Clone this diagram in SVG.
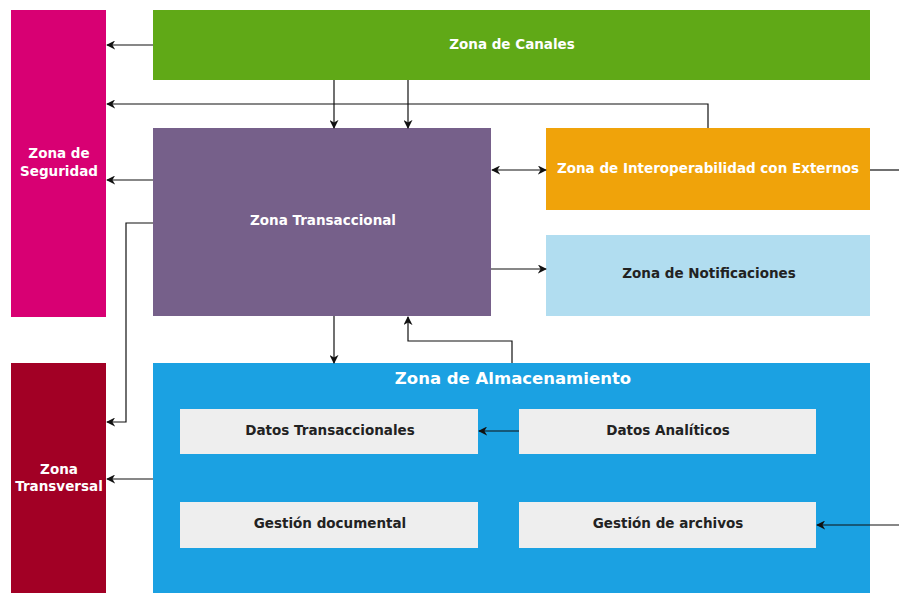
<svg xmlns="http://www.w3.org/2000/svg" width="899" height="593" viewBox="0 0 899 593">
<style>
text{font-family:"DejaVu Sans","Liberation Sans",sans-serif;font-weight:bold;font-size:13.5px;text-anchor:middle;dominant-baseline:central}
.w{fill:#ffffff}.d{fill:#222222}
.c{fill:none;stroke:#111111;stroke-width:1.2}
</style>
<defs>
<marker id="a" viewBox="0 0 10 10" refX="9" refY="5" markerWidth="9" markerHeight="9" markerUnits="userSpaceOnUse" orient="auto-start-reverse">
<path d="M0,0 L10,5 L0,10 L3,5 Z" fill="#111111"/>
</marker>
</defs>
<rect width="899" height="593" fill="#ffffff"/>
<g id="seguridad"><rect x="11" y="10" width="95" height="307" fill="#d80073"/><text class="w" x="59" y="153">Zona de</text><text class="w" x="59" y="171">Seguridad</text></g>
<g id="canales"><rect x="153" y="10" width="717" height="70" fill="#60a917"/><text class="w" x="512" y="44">Zona de Canales</text></g>
<g id="transaccional"><rect x="153" y="128" width="338" height="188" fill="#76608a"/><text class="w" x="323" y="220">Zona Transaccional</text></g>
<g id="interop"><rect x="546" y="128" width="324" height="82" fill="#f0a30a"/><text class="w" x="708" y="168">Zona de Interoperabilidad con Externos</text></g>
<g id="notificaciones"><rect x="546" y="235" width="324" height="81" fill="#b1ddf0"/><text class="d" x="709" y="273">Zona de Notificaciones</text></g>
<g id="transversal"><rect x="11" y="363" width="95" height="240" fill="#a20025"/><text class="w" x="59" y="469">Zona</text><text class="w" x="59" y="486">Transversal</text></g>
<g id="almacenamiento"><rect x="153" y="363" width="717" height="240" fill="#1ba1e2"/><text class="w" x="513" y="378" style="font-size:16.5px">Zona de Almacenamiento</text></g>
<g id="datos-transaccionales"><rect x="180" y="409" width="298" height="45" fill="#eeeeee"/><text class="d" x="330" y="430">Datos Transaccionales</text></g>
<g id="datos-analiticos"><rect x="519" y="409" width="297" height="45" fill="#eeeeee"/><text class="d" x="668" y="430">Datos Analíticos</text></g>
<g id="gestion-documental"><rect x="180" y="502" width="298" height="46" fill="#eeeeee"/><text class="d" x="330" y="523">Gestión documental</text></g>
<g id="gestion-archivos"><rect x="519" y="502" width="297" height="46" fill="#eeeeee"/><text class="d" x="668" y="523">Gestión de archivos</text></g>
<g id="connectors">
<path class="c" d="M153,45 H107" marker-end="url(#a)"/>
<path class="c" d="M708,128 V104 H107" marker-end="url(#a)"/>
<path class="c" d="M334,80 V128" marker-end="url(#a)"/>
<path class="c" d="M408,80 V128" marker-end="url(#a)"/>
<path class="c" d="M153,180 H107" marker-end="url(#a)"/>
<path class="c" d="M153,223 H126 V422 H107" marker-end="url(#a)"/>
<path class="c" d="M492,170 H546" marker-start="url(#a)" marker-end="url(#a)"/>
<path class="c" d="M491,269 H546" marker-end="url(#a)"/>
<path class="c" d="M334,316 V363" marker-end="url(#a)"/>
<path class="c" d="M512,363 V341 H408 V317" marker-end="url(#a)"/>
<path class="c" d="M153,479 H107" marker-end="url(#a)"/>
<path class="c" d="M519,431 H479" marker-end="url(#a)"/>
<path class="c" d="M870,170 H899"/>
<path class="c" d="M899,525 H817" marker-end="url(#a)"/>
</g>
</svg>
